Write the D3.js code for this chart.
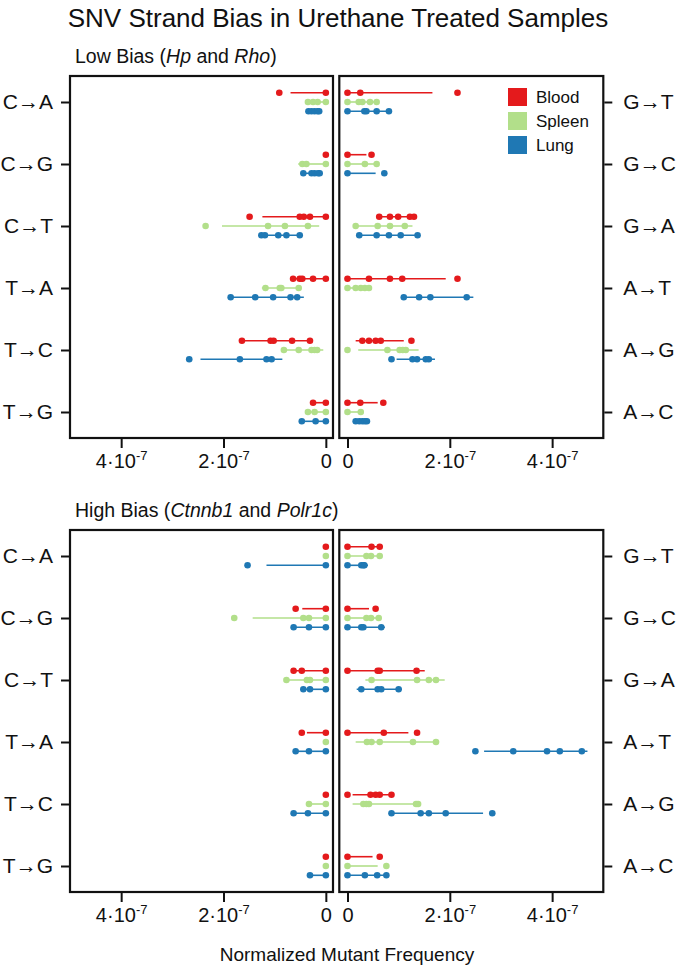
<!DOCTYPE html>
<html><head><meta charset="utf-8">
<script src="https://cdn.jsdelivr.net/npm/d3@7"></script>
<style>
html,body{margin:0;padding:0;background:#fff;}
svg{display:block;font-family:"Liberation Sans",Arial,Helvetica,sans-serif;}
</style></head>
<body>
<svg id="chart" width="677" height="967"></svg>
<script>
// ---------------- DATA (values in units of 1e-7) ----------------
const leftCategories = ["C→A","C→G","C→T","T→A","T→C","T→G"];
const rightCategories = ["G→T","G→C","G→A","A→T","A→G","A→C"];
const tissues = ["Blood","Spleen","Lung"];
const tissueColors = ["#e41a1c","#b2df8a","#1f78b4"];
const tickValues = [0, 2, 4];
const unitExponent = "-7";

// points: [category][tissue] -> sample values
const lowLeftPoints = [
  [[0.91,0],[0.35,0.25,0.16,0],[0.34,0.28,0.22,0.16,0.13]],
  [[0],[0.46,0.38,0],[0.44,0.28,0.22,0.15,0.12]],
  [[1.49,0.51,0.43,0.31,0],[2.35,1.13,0.80,0.35],[1.26,1.19,0.93,0.77,0.51]],
  [[0.64,0.51,0.46,0.25,0],[1.18,0.90,0.87,0.53],[1.86,1.38,1.03,0.69,0.56]],
  [[1.64,1.08,1.02,0.66,0.31],[0.82,0.53,0.28,0.22,0.17],[2.67,1.68,1.16,1.06]],
  [[0.25,0],[0.35,0.22,0],[0.47,0.20,0]]
];
const lowLeftRanges = [
  [[0,0.69],[0,0.38],[0.13,0.36]],
  [null,[0,0.54],[0.11,0.47]],
  [[0,1.24],[0.13,2.03],[0.48,1.29]],
  [[0,0.69],[0.49,1.25],[0.43,1.86]],
  [[0.26,1.68],[0.05,0.87],[0.85,2.45]],
  [[0,0.25],[0,0.39],[0,0.47]]
];
const lowRightPoints = [
  [[0,0.25,2.15],[0,0.22,0.29,0.44,0.57],[0,0.33,0.37,0.57,0.81]],
  [[0,0.47],[0,0.34,0.57],[0,0.72]],
  [[0.62,0.83,0.99,1.22,1.30],[0.16,0.59,0.83,1.12],[0.23,0.57,0.81,1.04,1.37]],
  [[0,0.42,0.83,1.07,2.15],[0,0.16,0.26,0.34,0.42],[1.10,1.40,1.62,2.33]],
  [[0.29,0.42,0.55,0.65,1.25],[0,0.78,1.02,1.08,1.14],[0.86,1.27,1.36,1.53,1.59]],
  [[0,0.25,0.70],[0,0.26],[0.16,0.23,0.29,0.34,0.38]]
];
const lowRightRanges = [
  [[0,1.66],[0,0.60],[0,0.83]],
  [[0,0.37],[0,0.57],[0,0.55]],
  [[0.62,1.32],[0.16,1.27],[0.23,1.41]],
  [[0,1.92],[0,0.45],[1.10,2.46]],
  [[0.16,1.10],[0.21,1.39],[0.96,1.71]],
  [[0,0.59],[0,0.26],[0.12,0.42]]
];
const highLeftPoints = [
  [[0],[0],[1.53,0]],
  [[0.59,0],[1.79,0.44,0.33,0],[0.63,0.33,0]],
  [[0.63,0.47,0],[0.77,0.37,0.31,0],[0.44,0.31,0]],
  [[0.47,0],[0],[0.59,0.33,0]],
  [[0],[0.33,0],[0.63,0.35,0]],
  [[0],[0],[0.31,0]]
];
const highLeftRanges = [
  [null,null,[0,1.16]],
  [[0,0.46],[0,1.43],[0,0.63]],
  [[0,0.63],[0,0.77],[0,0.44]],
  [[0,0.37],null,[0,0.59]],
  [null,[0,0.33],[0,0.63]],
  [null,null,[0,0.31]]
];
const highRightPoints = [
  [[0,0.47,0.63],[0,0.37,0.46,0.63],[0,0.27,0.31,0.33]],
  [[0,0.55],[0,0.37,0.46,0.61],[0,0.27,0.31,0.66]],
  [[0,0.59,0.63,1.35],[0.47,1.36,1.59,1.73],[0.27,0.59,0.66,1.00]],
  [[0,0.71,1.36],[0.38,0.47,0.63,1.28,1.73],[2.50,3.24,3.90,4.15,4.58]],
  [[0,0.45,0.55,0.63,0.86],[0.31,0.37,0.42,1.34,1.38],[0.86,1.43,1.59,1.92,2.83]],
  [[0,0.63],[0,0.76],[0,0.34,0.58,0.76]]
];
const highRightRanges = [
  [[0,0.63],[0,0.63],[0,0.40]],
  [[0,0.42],[0,0.61],[0,0.73]],
  [[0,1.51],[0.35,1.90],[0.18,1.06]],
  [[0,1.19],[0.16,1.79],[2.67,4.69]],
  [[0.10,0.91],[0.10,1.43],[0.86,2.65]],
  [[0,0.49],[0,0.59],[0,0.76]]
];
const titleText = "SNV Strand Bias in Urethane Treated Samples";
const axisTitle = "Normalized Mutant Frequency";

// ---------------- LAYOUT ----------------
const svg = d3.select("#chart");
const FONT = '"Liberation Sans",Arial,Helvetica,sans-serif';
const leftBox = {x0:70, x1:333};
const rightBox = {x0:339.3, x1:603.3};
const panels = [
  {top:76, bottom:438, subtitle:[["Low Bias (",false],["Hp",true],[" and ",false],["Rho",true],[")",false]],
   lp:lowLeftPoints, lr:lowLeftRanges, rp:lowRightPoints, rr:lowRightRanges, legend:true},
  {top:530, bottom:892, subtitle:[["High Bias (",false],["Ctnnb1",true],[" and ",false],["Polr1c",true],[")",false]],
   lp:highLeftPoints, lr:highLeftRanges, rp:highRightPoints, rr:highRightRanges, legend:false}
];

const xLeft = d3.scaleLinear().domain([5.0, -0.14]).range([leftBox.x0, leftBox.x1]);
const xRight = d3.scaleLinear().domain([-0.16, 5.0]).range([rightBox.x0, rightBox.x1]);

svg.append("text").attr("x", 338).attr("y", 27).attr("text-anchor","middle")
  .attr("font-size", 26).attr("fill","#111").text(titleText);

function fmtTick(sel){
  sel.selectAll(".tick text").each(function(d){
    const t = d3.select(this); t.text(null);
    if (d === 0) { t.text("0"); return; }
    t.append("tspan").text(d + "·10");
    t.append("tspan").attr("dy", -8).attr("font-size", 13).text(unitExponent);
  });
}

panels.forEach(p => {
  const y = d3.scalePoint().domain(d3.range(6)).range([p.top + 26, p.bottom - 26]);
  const off = y.step() * 0.15;

  // subtitle
  const st = svg.append("text").attr("x", 75).attr("y", p.top - 13)
    .attr("font-size", 19.5).attr("fill","#111");
  p.subtitle.forEach(([s, it]) => st.append("tspan").attr("font-style", it ? "italic" : "normal").text(s));

  [[xLeft, leftBox, p.lp, p.lr, leftCategories, "left"], [xRight, rightBox, p.rp, p.rr, rightCategories, "right"]]
  .forEach(([x, box, pts, rng, cats, side]) => {
    const g = svg.append("g");
    // ranges
    pts.forEach((cat, ci) => cat.forEach((vals, ti) => {
      const r = rng[ci][ti];
      const yy = y(ci) + (ti - 1) * off;
      if (r) g.append("line").attr("x1", x(r[0])).attr("x2", x(r[1]))
        .attr("y1", yy).attr("y2", yy).attr("stroke", tissueColors[ti]).attr("stroke-width", 1.6);
    }));
    pts.forEach((cat, ci) => cat.forEach((vals, ti) => {
      const yy = y(ci) + (ti - 1) * off;
      g.selectAll(null).data(vals).enter().append("circle")
        .attr("cx", d => x(d)).attr("cy", yy).attr("r", 3.3).attr("fill", tissueColors[ti]);
    }));
    // box
    svg.append("rect").attr("x", box.x0).attr("y", p.top).attr("width", box.x1 - box.x0)
      .attr("height", p.bottom - p.top).attr("fill","none").attr("stroke","#111").attr("stroke-width", 2.2);
    // bottom axis
    const ax = svg.append("g").attr("transform", `translate(0,${p.bottom + 1})`)
      .call(d3.axisBottom(x).tickValues(tickValues).tickSize(9).tickPadding(6));
    ax.select(".domain").remove();
    ax.selectAll(".tick line").attr("stroke","#111").attr("stroke-width", 2);
    ax.selectAll(".tick text").attr("font-size", 20).attr("font-family", FONT).attr("fill","#111");
    fmtTick(ax);
    // category axis
    const ys = d3.scalePoint().domain(cats).range(y.range());
    const ca = svg.append("g")
      .attr("transform", `translate(${side === "left" ? box.x0 - 1 : box.x1 + 1},0)`)
      .call((side === "left" ? d3.axisLeft(ys) : d3.axisRight(ys)).tickSize(8).tickPadding(side === "left" ? 8 : 11));
    ca.select(".domain").remove();
    ca.selectAll(".tick line").attr("stroke","#111").attr("stroke-width", 2);
    ca.selectAll(".tick text").attr("font-size", 21).attr("font-family", FONT).attr("fill","#111");
  });

  if (p.legend) {
    const lg = svg.append("g").attr("transform", "translate(508,88)");
    tissues.forEach((t, i) => {
      lg.append("rect").attr("x", 0).attr("y", i * 24).attr("width", 19).attr("height", 18).attr("fill", tissueColors[i]);
      lg.append("text").attr("x", 28).attr("y", i * 24 + 9).attr("dy", "0.35em")
        .attr("font-size", 17).attr("fill","#111").text(t);
    });
  }
});

svg.append("text").attr("x", 347).attr("y", 961).attr("text-anchor","middle")
  .attr("font-size", 19).attr("fill","#111").text(axisTitle);
</script>
</body></html>
